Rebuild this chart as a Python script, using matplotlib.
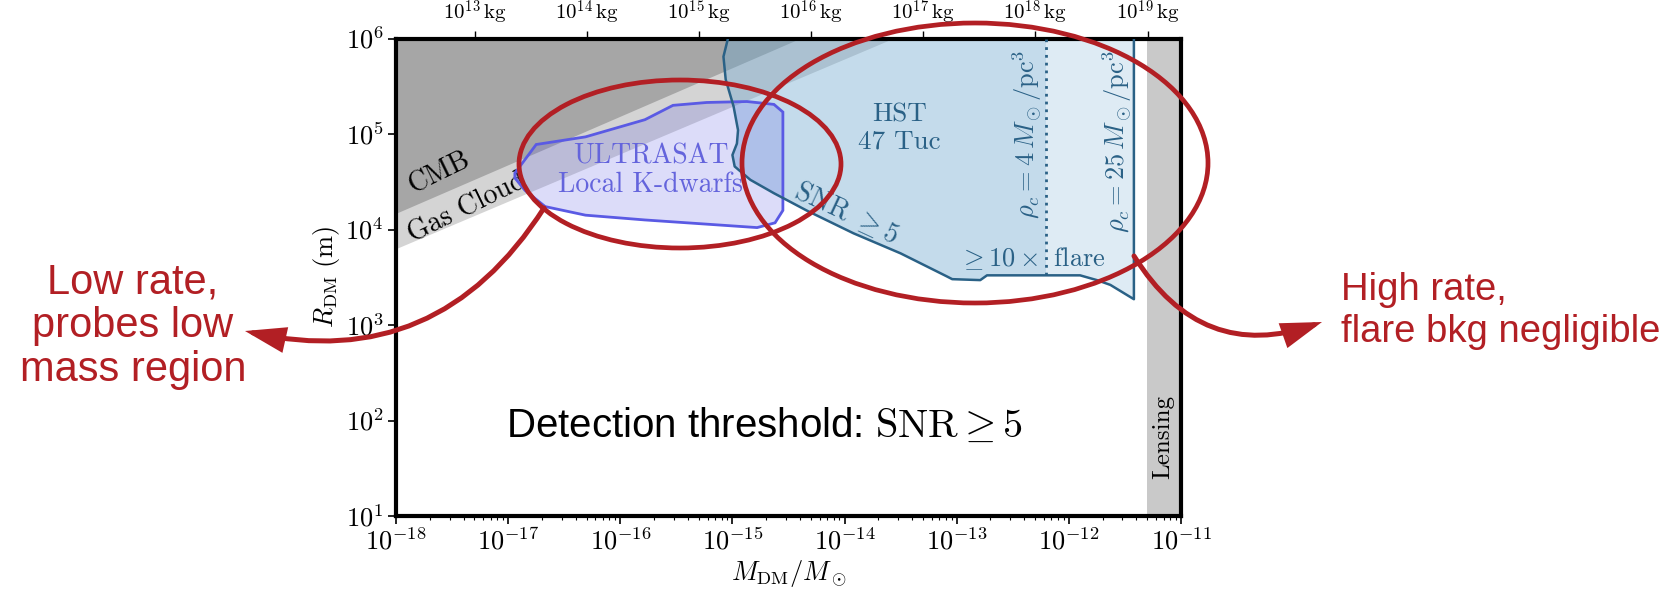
import numpy as np
import matplotlib
matplotlib.use('Agg')
import matplotlib.pyplot as plt
from matplotlib.patches import Ellipse, FancyArrowPatch, Rectangle
from matplotlib.ticker import NullLocator, NullFormatter

plt.rcParams['mathtext.fontset'] = 'cm'
plt.rcParams['axes.unicode_minus'] = False

MSUN_KG = 1.989e30

# tick exponents
x_exp = [-18, -17, -16, -15, -14, -13, -12, -11]
y_exp = [1, 2, 3, 4, 5, 6]
kg_exp = [13, 14, 15, 16, 17, 18, 19]

# constraint lines, log10(M/Msun) vs log10(R/m)
cmb_logm = [-18.0, -14.40]
cmb_logr = [4.17, 6.0]
gas_logm = [-18.0, -13.57]
gas_logr = [3.80, 6.0]

# ULTRASAT local K-dwarfs contour
ultra_logm = [-16.94, -16.75, -16.31, -15.78, -15.53, -15.23, -14.87, -14.63, -14.55,
              -14.55, -14.62, -14.78, -15.78, -16.31, -16.67, -16.85, -16.94]
ultra_logr = [4.59, 4.89, 4.97, 5.15, 5.30, 5.33, 5.34, 5.31, 5.23,
              4.20, 4.07, 4.02, 4.10, 4.15, 4.24, 4.41, 4.54]

# HST 47 Tuc contour (SNR >= 5 / >= 10x flare)
hst_logm = [-15.04, -15.08, -15.06, -14.99, -14.95, -14.96, -15.00, -14.98, -14.84, -14.63,
            -14.34, -13.92, -13.50, -13.09, -13.04, -12.79, -12.73, -11.90, -11.75, -11.63,
            -11.42, -11.42]
hst_logr = [6.0, 5.81, 5.57, 5.29, 5.04, 4.90, 4.78, 4.66, 4.52, 4.38,
            4.20, 3.96, 3.75, 3.51, 3.48, 3.47, 3.52, 3.52, 3.47, 3.42,
            3.27, 6.0]

rho4_logm = -12.20
rho4_logr_min = 3.52
lensing_logm = -11.30

red = '#b21f24'
hst_edge = '#2a6186'
hst_fill = '#6ca6ce'

fig = plt.figure(figsize=(16.72, 5.91), dpi=100)
ax = fig.add_axes([396 / 1672, 75 / 591, 785 / 1672, 477.5 / 591])
ax.set_xscale('log')
ax.set_yscale('log')
ax.set_xlim(1e-18, 1e-11)
ax.set_ylim(10, 1e6)

# gray exclusion regions
ax.fill_between(10 ** np.array(gas_logm), 10 ** np.array(gas_logr), 1e6, color='#d4d4d4', lw=0, zorder=1)
ax.fill_between(10 ** np.array(cmb_logm), 10 ** np.array(cmb_logr), 1e6, color='#a6a6a6', lw=0, zorder=1)
ax.axvspan(10 ** lensing_logm, 1e-11, color='#c9c9c9', lw=0, zorder=1)

# ULTRASAT
um = 10 ** np.array(ultra_logm)
ur = 10 ** np.array(ultra_logr)
ax.fill(um, ur, facecolor=(0.39, 0.39, 0.9, 0.22), edgecolor='#5a5ae4', lw=2, zorder=3)

# HST
hm = 10 ** np.array(hst_logm)
hr = 10 ** np.array(hst_logr)
ax.fill(hm, hr, color=hst_fill, alpha=0.22, lw=0, zorder=2)
left = ax.fill(hm, hr, color=hst_fill, alpha=0.22, lw=0, zorder=2)[0]
left.set_clip_path(Rectangle((1e-18, 1), 10 ** rho4_logm - 1e-18, 1e7, transform=ax.transData))
ax.plot(hm, hr, color=hst_edge, lw=1.8, zorder=4)
ax.plot([10 ** rho4_logm] * 2, [10 ** rho4_logr_min, 1e6], color=hst_edge, lw=2,
        ls=(0, (1, 1.8)), zorder=4)

# labels inside the plot
cm = dict(family='cmr10')
ax.text(10 ** -17.61, 10 ** 4.59, 'CMB', rotation=26, ha='center', va='center', fontsize=20, zorder=5, **cm)
ax.text(10 ** -17.36, 10 ** 4.22, 'Gas Cloud', rotation=26, ha='center', va='center', fontsize=20, zorder=2.5, **cm)
ax.text(10 ** -15.73, 10 ** 4.62, 'ULTRASAT\nLocal K-dwarfs', color='#6464dc', ha='center', va='center',
        fontsize=20, linespacing=1.12, zorder=5, **cm)
ax.text(10 ** -13.51, 10 ** 5.06, 'HST\n47 Tuc', color=hst_edge, ha='center', va='center',
        fontsize=19.5, linespacing=1.15, zorder=5, **cm)
ax.text(10 ** -13.98, 10 ** 4.18, r'SNR $\geq 5$', color=hst_edge, rotation=-25, ha='center', va='center',
        fontsize=20, zorder=5, **cm)
ax.text(10 ** -12.33, 10 ** 3.70, r'$\geq 10\times$ flare', color=hst_edge, ha='center', va='center',
        fontsize=19, zorder=5, **cm)
ax.text(10 ** -12.37, 10 ** 5.0, r'$\rho_c = 4\,M_\odot/\mathrm{pc}^3$', color=hst_edge, rotation=90,
        ha='center', va='center', fontsize=19, zorder=5)
ax.text(10 ** -11.57, 10 ** 4.92, r'$\rho_c = 25\,M_\odot/\mathrm{pc}^3$', color=hst_edge, rotation=90,
        ha='center', va='center', fontsize=19, zorder=5)
ax.text(10 ** -11.16, 10 ** 1.83, 'Lensing', rotation=90, ha='center', va='center', fontsize=18, zorder=5, **cm)
ax.text(0.47, 0.166, r'Detection threshold: $\mathrm{SNR} \geq 5$', transform=ax.transAxes,
        ha='center', va='baseline', fontsize=29, family='Liberation Sans', zorder=5)

# axes styling
ax.set_xticks([10.0 ** e for e in x_exp])
ax.set_xticklabels([r'$10^{%d}$' % e for e in x_exp])
ax.set_yticks([10.0 ** e for e in y_exp])
ax.set_yticklabels([r'$10^{%d}$' % e for e in y_exp])
ax.xaxis.set_minor_formatter(NullFormatter())
ax.yaxis.set_minor_locator(NullLocator())
ax.tick_params(which='major', direction='out', length=6, width=1.2, labelsize=19, pad=3)
ax.tick_params(which='minor', direction='out', length=3, width=0.8)
for s in ax.spines.values():
    s.set_linewidth(3)
ax.set_xlabel(r'$M_{\rm DM}/M_\odot$', fontsize=19, labelpad=2)
ax.set_ylabel(r'$R_{\rm DM}\ (\mathrm{m})$', fontsize=19, labelpad=2)

sec = ax.secondary_xaxis('top', functions=(lambda m: m * MSUN_KG, lambda k: k / MSUN_KG))
sec.set_xticks([10.0 ** e for e in kg_exp])
sec.set_xticklabels([r'$10^{%d}\,\mathrm{kg}$' % e for e in kg_exp])
sec.xaxis.set_minor_locator(NullLocator())
sec.tick_params(direction='out', length=5, width=1, labelsize=15, pad=3)
sec.spines['top'].set_visible(False)

# annotation overlay in pixel coordinates
ov = fig.add_axes([0, 0, 1, 1], zorder=10)
ov.set_xlim(0, 1672)
ov.set_ylim(591, 0)
ov.axis('off')
ov.patch.set_alpha(0)

ov.add_patch(Ellipse((680, 164), 322, 168, fill=False, ec=red, lw=3.4))
ov.add_patch(Ellipse((975, 163), 466, 280, fill=False, ec=red, lw=3.4))
ov.add_patch(FancyArrowPatch((544, 208), (245, 331), connectionstyle='arc3,rad=-0.35',
                             arrowstyle='-|>,head_length=22,head_width=7', mutation_scale=1,
                             lw=3.6, color=red, shrinkA=0, shrinkB=0, joinstyle='miter'))
ov.add_patch(FancyArrowPatch((1134, 256), (1322, 322), connectionstyle='arc3,rad=0.4',
                             arrowstyle='-|>,head_length=22,head_width=7', mutation_scale=1,
                             lw=3.6, color=red, shrinkA=0, shrinkB=0, joinstyle='miter'))
ov.text(133, 326, 'Low rate,\nprobes low\nmass region', color=red, ha='center', va='center',
        fontsize=30, linespacing=1.12, family='Liberation Sans')
ov.text(1341, 311, 'High rate,\nflare bkg negligible', color=red, ha='left', va='center',
        fontsize=27.5, linespacing=1.22, family='Liberation Sans')

fig.savefig('out.png', dpi=100)
